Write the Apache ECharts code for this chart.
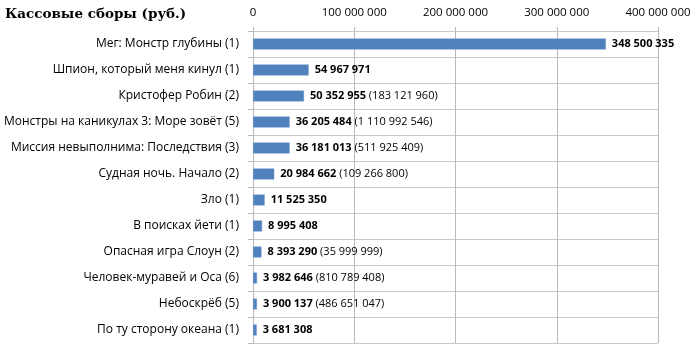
<!DOCTYPE html>
<html><head><meta charset="utf-8">
<script src="https://cdn.jsdelivr.net/npm/echarts@6/dist/echarts.min.js"></script>
<style>html,body{margin:0;padding:0;background:#fff}#c{width:700px;height:352px}</style>
</head><body><div id="c"></div>
<script>
const categories = [
  'Мег: Монстр глубины (1)',
  'Шпион, который меня кинул (1)',
  'Кристофер Робин (2)',
  'Монстры на каникулах 3: Море зовёт (5)',
  'Миссия невыполнима: Последствия (3)',
  'Судная ночь. Начало (2)',
  'Зло (1)',
  'В поисках йети (1)',
  'Опасная игра Слоун (2)',
  'Человек-муравей и Оса (6)',
  'Небоскрёб (5)',
  'По ту сторону океана (1)'
];
const weekendValues = [348500335, 54967971, 50352955, 36205484, 36181013, 20984662, 11525350, 8995408, 8393290, 3982646, 3900137, 3681308];
const totalValues = [null, null, 183121960, 1110992546, 511925409, 109266800, null, null, 35999999, 810789408, 486651047, null];
const axisTicks = [0, 100000000, 200000000, 300000000, 400000000];

function fmt(v){ return String(v).replace(/\B(?=(\d{3})+(?!\d))/g, ' '); }

const chart = echarts.init(document.getElementById('c'));
chart.setOption({
  animation: false,
  title: {
    text: 'Кассовые сборы (руб.)',
    left: 0, top: 2,
    textStyle: { fontFamily: 'DejaVu Serif', fontWeight: 'bold', fontSize: 13.5, color: '#000' }
  },
  grid: { left: 253, right: 42, top: 31, bottom: 9, containLabel: false },
  xAxis: {
    type: 'value', position: 'top',
    min: axisTicks[0], max: axisTicks[axisTicks.length - 1], interval: axisTicks[1] - axisTicks[0],
    axisLine: { show: false },
    axisTick: { show: true, length: 4, lineStyle: { color: '#b8b8b8' } },
    splitLine: { show: true, lineStyle: { color: '#b8b8b8', width: 1 } },
    axisLabel: { formatter: fmt, fontFamily: 'Open Sans', fontSize: 11.5, color: '#000', margin: 12 }
  },
  yAxis: {
    type: 'category', data: categories, inverse: true,
    axisLine: { show: true, lineStyle: { color: '#b8b8b8' } },
    axisTick: { show: true, length: 5, lineStyle: { color: '#b8b8b8' } },
    splitLine: { show: true, lineStyle: { color: '#c8c8c8' } },
    axisLabel: { fontFamily: 'Open Sans', fontSize: 12, color: '#000', margin: 14 }
  },
  series: [{
    type: 'bar',
    data: weekendValues,
    barWidth: 11,
    barMinHeight: 3,
    itemStyle: { color: '#4F81BD', borderColor: '#7097c8', borderWidth: 0.5 },
    label: {
      show: true, position: 'right', distance: 6,
      formatter: p => {
        const t = totalValues[p.dataIndex];
        return '{b|' + fmt(p.value) + '}' + (t != null ? '{n| (' + fmt(t) + ')}' : '');
      },
      rich: {
        b: { fontFamily: 'Open Sans', fontWeight: 'bold', fontSize: 11, color: '#000' },
        n: { fontFamily: 'Open Sans', fontSize: 11, color: '#000' }
      }
    }
  }]
});
</script></body></html>
